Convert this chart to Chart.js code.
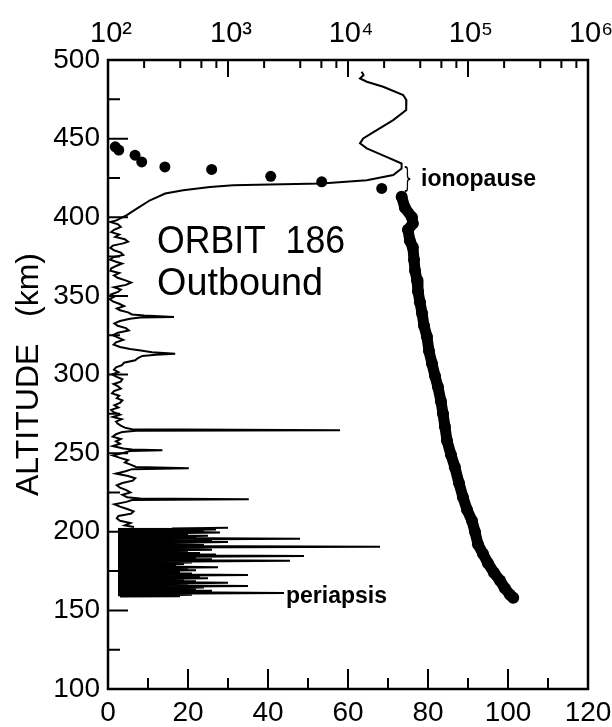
<!DOCTYPE html>
<html>
<head>
<meta charset="utf-8">
<title>Orbit 186 outbound</title>
<script src="https://cdn.jsdelivr.net/npm/chart.js@4.4.1/dist/chart.umd.min.js"></script>
<style>
  html, body { margin: 0; padding: 0; background: #fff; }
  #wrap { width: 612px; height: 727px; }
</style>
</head>
<body>
<div id="wrap"><canvas id="orbitChart" width="612" height="727"></canvas></div>
<script>
// tick labels
const altTicks = [100, 150, 200, 250, 300, 350, 400, 450, 500];
const fieldTicks = [0, 20, 40, 60, 80, 100, 120];
const densityTicks = [1e2, 1e3, 1e4, 1e5, 1e6];

// solid trace (bottom, linear axis), from the top of the pass down to 203 km
const fieldAlt = [
  492.6, 490.4, 488.3, 486.2, 483, 477.7, 474.5, 471.3, 468.2, 461.8, 455.4, 450.1, 447, 443.8,
  438.4, 434.2, 431, 426.8, 423.6, 421.5, 420.8, 420.4, 419.3, 417.2, 415.1, 410.8, 405.5, 401.3,
  398, 397, 395.5, 393.8, 392, 390.5, 389, 387.5, 386, 384.5, 383.4, 382, 380.5, 379, 377.5, 376,
  374.6, 373, 371.5, 370.5, 369, 367.5, 366, 364.5, 363, 361.5, 360, 358.5, 357, 355.5, 354, 352.5,
  351, 349.5, 348, 346.5, 345, 343.5, 342, 340.8, 339.5, 338.2, 337.5, 336.6, 336.2, 335.5, 334,
  332.5, 331, 329.5, 328, 326.5, 325, 323.6, 322, 320.5, 319, 317.5, 316.2, 315.3, 314.2, 313.2,
  312.6, 311.8, 310.5, 309, 307.5, 306, 304.5, 303, 301.5, 300, 298.5, 297, 295.5, 294, 292.5, 291,
  289.5, 288, 286.5, 285, 283.5, 282, 280.5, 279, 277.5, 276, 274.5, 273, 271.5, 270, 268.8, 267.5,
  266.2, 265.2, 264.6, 264.2, 263.5, 262, 260.5, 259, 257.5, 256, 254.5, 253, 252.3, 251.8, 251.3,
  250, 248.5, 247, 245.5, 244, 242.5, 241.2, 240.4, 239.8, 238.5, 237, 235.5, 234, 232.5, 231,
  229.5, 228, 226.5, 225, 223.5, 222, 221.2, 220.7, 220.2, 219, 217.5, 216, 214.5, 213, 211.5, 210,
  208.5, 207, 205.5, 204, 203
];
const fieldValue = [
  63.4, 63.9, 63, 64.7, 68.8, 73.8, 74.6, 74.5, 74.6, 71.3, 67.2, 63.8, 63, 64.7,
  69.6, 73.4, 73.4, 71.3, 64.7, 53.4, 40.5, 31.3, 25.5, 18.8, 14.3, 10.5, 7.2, 4.7,
  2.1, 0.6, 2.5, 3.2, 1.5, 0.8, 2.8, 1.8, 4.2, 5, 3.8, 1.2, 0.6, 1.5, 3.2, 3.8,
  1.3, 0.5, 2.2, 3.5, 2, 0.8, 0.6, 2.8, 1.5, 2.4, 4.2, 5.8, 4.5, 1.5, 3.2, 2.5,
  0.8, 1.6, 0.4, 1.2, 2.8, 4, 2.2, 3, 5, 6, 9, 16.5, 8, 5.5, 3,
  1.6, 2.4, 4.5, 5.2, 2.5, 1.2, 2.4, 3.8, 2, 1.4, 3, 5.5, 8.2, 11, 16.8,
  12, 8.6, 7.5, 6.8, 4, 3.5, 2, 1.5, 2.6, 1, 2.2, 3.6, 3.2, 1.4, 2.5, 3.2,
  1.5, 1, 2.8, 2.2, 3.6, 3, 1.6, 2.6, 0.8, 1.4, 3, 1.2, 3.4, 2, 2.4, 3.2,
  4.2, 6, 58, 7, 3.6, 2, 1.2, 3.2, 2, 3, 1.2, 3.8, 6, 13.6, 5.5,
  3.6, 1.2, 3, 5, 4.2, 5.8, 7, 20.2, 6, 4.4, 2, 5, 6.8, 6.2, 3.6,
  2.2, 3, 4.6, 5.6, 3.6, 4.8, 8, 35.2, 6, 4.6, 1.6, 3, 4.8, 6.4, 5.8, 2.6,
  2.2, 3, 5.6, 4.2, 6.5
];

// the dense burst near periapsis, same trace
const burstAlt = [
  202.5, 202, 201.5, 201, 200.5, 200, 199.5, 199, 198.5, 198, 197.5, 197, 196.5, 196, 195.5, 195,
  194.5, 194, 193.5, 193, 192.5, 192, 191.5, 191, 190.5, 190, 189.5, 189, 188.5, 188, 187.5, 187,
  186.5, 186, 185.5, 185, 184.5, 184, 183.5, 183, 182.5, 182, 181.5, 181, 180.5, 180, 179.5, 179,
  178.5, 178, 177.5, 177, 176.5, 176, 175.5, 175, 174.5, 174, 173.5, 173, 172.5, 172, 171.5, 171,
  170.5, 170, 169.5, 169, 168.5, 168, 167.5, 167, 166.5, 166, 165.5, 165, 164.5, 164, 163.5, 163,
  162.5, 162, 161.5, 161, 160.5, 160, 159.5, 159, 158.8
];
const burstValue = [
  30, 16, 27, 14, 24, 18, 28, 15, 20, 12, 25, 16, 22, 14, 48, 15,
  26, 13, 30, 16, 18, 12, 24, 15, 68, 13, 22, 16, 26, 12, 20, 14,
  23, 12, 27, 15, 49, 11, 22, 14, 26, 12, 45.5, 13, 21, 10, 19, 12,
  17, 10, 27.5, 12, 20, 11, 22, 9, 18, 12, 21, 10, 35, 13, 23, 11,
  25, 12, 19, 10, 22, 13, 30, 11, 20, 12, 35, 13, 24, 11, 22, 14,
  26, 12, 19, 44, 12, 21, 10, 18, 3
];

// dots above the ionopause (top, log axis)
const sparseAlt = [444.8, 442.7, 439.5, 435.2, 432, 430.4, 426, 422.5, 418.3];
const sparseDensity = [115, 123, 168, 191, 298, 731, 2270, 6040, 19100];

// dots below it, packed so tightly they merge into a band
const denseAlt = [
  413, 406, 400, 396, 392, 385, 381, 373, 366, 360, 353, 346, 339, 331, 324, 315, 307, 299, 292,
  283, 275, 267, 258, 249, 241, 231, 222, 214, 207, 200, 192, 186, 180, 174, 169, 164, 160, 158
];
const denseDensity = [
  28000, 29800, 34100, 34700, 31600, 32800, 34700, 35500, 36200, 37600, 38300, 39800, 41400, 43000,
  45500, 47300, 50100, 53100, 56200, 59500, 61900, 64200, 66800, 72100, 77800, 84100, 90800, 98100,
  108000, 114300, 121100, 133300, 146700, 164500, 184700, 203000, 223700, 238000
];

const FONT = '"Liberation Sans", Arial, sans-serif';
const sup = { 2: '\u00B2', 3: '\u00B3', 4: '\u2074', 5: '\u2075', 6: '\u2076' };

function pairs(xs, ys) {
  return xs.map((x, i) => ({ x: x, y: ys[i] }));
}

// keep the plot box where it is, whatever the edge labels need
function noEdgePadding(s) {
  s.paddingLeft = 0;
  s.paddingRight = 0;
}

// frame, inward tick marks and the text notes
const frameAndNotes = {
  id: 'frameAndNotes',
  afterDraw(chart) {
    const { ctx, chartArea: a, scales } = chart;
    ctx.save();
    ctx.strokeStyle = '#000';
    ctx.lineWidth = 2.5;
    ctx.strokeRect(a.left, a.top, a.right - a.left, a.bottom - a.top);

    ctx.lineWidth = 2;
    ctx.beginPath();
    for (let v = 125; v < 500; v += 25) {
      const py = scales.y.getPixelForValue(v);
      ctx.moveTo(a.left, py);
      ctx.lineTo(a.left + (v % 50 === 0 ? 20 : 12), py);
    }
    for (let v = 10; v < 120; v += 10) {
      const px = scales.x.getPixelForValue(v);
      ctx.moveTo(px, a.bottom);
      ctx.lineTo(px, a.bottom - (v % 20 === 0 ? 20 : 11));
    }
    for (let i = 0; i < densityTicks.length - 1; i++) {
      const d = densityTicks[i];
      if (i > 0) {
        const px = scales.x2.getPixelForValue(d);
        ctx.moveTo(px, a.top);
        ctx.lineTo(px, a.top + 17);
      }
      [2, 4, 6, 8].forEach(m => {
        const px = scales.x2.getPixelForValue(d * m);
        ctx.moveTo(px, a.top);
        ctx.lineTo(px, a.top + 8);
      });
    }
    ctx.stroke();

    ctx.fillStyle = '#000';
    ctx.textBaseline = 'alphabetic';
    ctx.font = '38px "Liberation Sans", Arial, sans-serif';
    ctx.fillText('ORBIT  186', 157, 253, 188);
    ctx.fillText('Outbound', 157, 295, 166);

    ctx.font = '28px "DejaVu Sans", sans-serif';
    ctx.fillText('}', 403, 188, 9);
    ctx.font = 'bold 23px "Liberation Sans", Arial, sans-serif';
    ctx.fillText('ionopause', 421, 186);
    ctx.fillText('periapsis', 286, 603);
    ctx.restore();
  }
};

new Chart(document.getElementById('orbitChart'), {
  type: 'scatter',
  data: {
    datasets: [{
      label: 'density above ionopause',
      data: pairs(sparseDensity, sparseAlt),
      xAxisID: 'x2',
      pointRadius: 5.5,
      pointBackgroundColor: '#000',
      pointBorderWidth: 0,
      showLine: false,
      order: 0
    }, {
      label: 'density below ionopause',
      data: pairs(denseDensity, denseAlt),
      xAxisID: 'x2',
      pointRadius: 6,
      pointBackgroundColor: '#000',
      pointBorderWidth: 0,
      showLine: true,
      borderColor: '#000',
      borderWidth: 11,
      borderJoinStyle: 'round',
      borderCapStyle: 'round',
      order: 0
    }, {
      label: 'trace',
      data: pairs(fieldValue, fieldAlt),
      xAxisID: 'x',
      pointRadius: 0,
      showLine: true,
      borderColor: '#000',
      borderWidth: 2,
      tension: 0,
      order: 1
    }, {
      label: 'trace near periapsis',
      data: pairs(burstValue, burstAlt),
      xAxisID: 'x',
      indexAxis: 'y',
      pointRadius: 0,
      showLine: true,
      borderColor: '#000',
      backgroundColor: '#000',
      fill: { value: 2.5 },
      borderWidth: 2,
      tension: 0,
      order: 1
    }]
  },
  options: {
    responsive: false,
    animation: false,
    devicePixelRatio: 1,
    layout: { padding: { left: 0, right: 24, top: 0, bottom: 0 } },
    plugins: {
      legend: { display: false },
      tooltip: { enabled: false }
    },
    scales: {
      x: {
        type: 'linear',
        position: 'bottom',
        min: 0,
        max: 120,
        afterBuildTicks: s => { s.ticks = fieldTicks.map(v => ({ value: v })); },
        afterFit: s => { s.height = 38; noEdgePadding(s); },
        grid: { display: false, drawTicks: false },
        border: { display: false },
        ticks: { color: '#000', padding: 7, maxRotation: 0, autoSkip: false,
                 font: { family: FONT, size: 28 } }
      },
      x2: {
        type: 'logarithmic',
        position: 'top',
        min: 1e2,
        max: 1e6,
        afterBuildTicks: s => { s.ticks = densityTicks.map(v => ({ value: v })); },
        afterFit: s => { s.height = 60; noEdgePadding(s); },
        grid: { display: false, drawTicks: false },
        border: { display: false },
        ticks: {
          color: '#000', padding: 9, maxRotation: 0, autoSkip: false, labelOffset: 3,
          font: { family: FONT, size: 29 },
          callback: v => '10' + sup[Math.round(Math.log10(v))]
        }
      },
      y: {
        type: 'linear',
        min: 100,
        max: 500,
        afterBuildTicks: s => { s.ticks = altTicks.map(v => ({ value: v })); },
        afterFit: s => { s.width = 108; },
        grid: { display: false, drawTicks: false },
        border: { display: false },
        ticks: { color: '#000', padding: 8, autoSkip: false,
                 font: { family: FONT, size: 28 } },
        title: {
          display: true,
          text: 'ALTITUDE   (km)',
          color: '#000',
          padding: { top: 10, bottom: 0 },
          font: { family: FONT, size: 32 }
        }
      }
    }
  },
  plugins: [frameAndNotes]
});
</script>
</body>
</html>
